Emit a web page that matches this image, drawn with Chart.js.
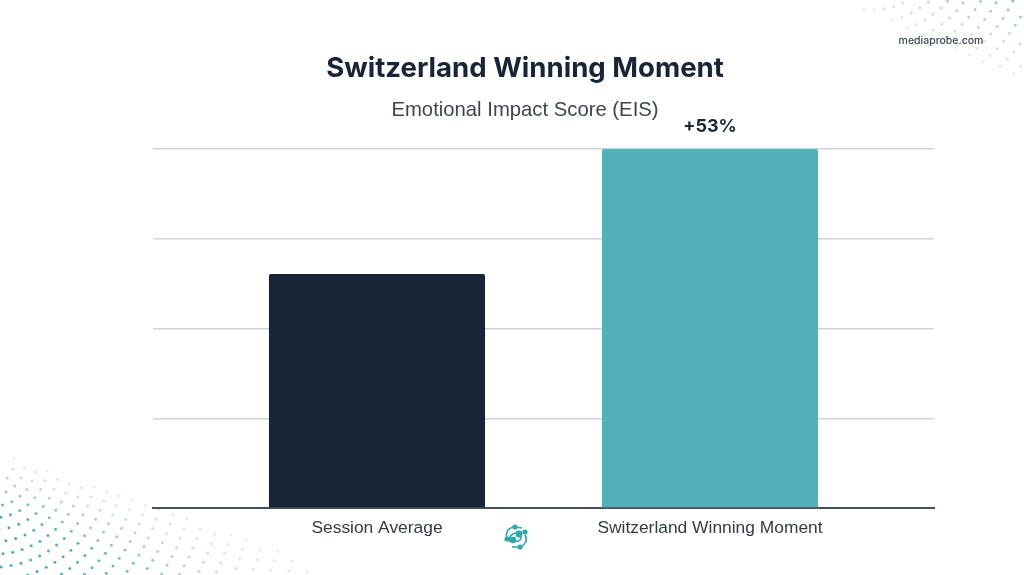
<!DOCTYPE html>
<html>
  <head>
    <title>Switzerland Winning Moment</title>
    <script src="https://cdn.jsdelivr.net/npm/chart.js"></script>
    <style>
      body { margin: 0; background: #fff; }
      #wrap { position: relative; width: 1024px; height: 575px; overflow: hidden; }
      #logo { position: absolute; left: 503px; top: 524px; }
    </style>
  </head>
  <body>
    <div id="wrap">
      <canvas id="chart" width="1024" height="575"></canvas>
      <svg id="logo" width="26" height="26" viewBox="0 0 26 26" fill="none" stroke="#2fa9ad" stroke-width="1.6">
        <path d="M4 14 C2 8 6 3 12 3 L19 4 M22 11 C25 16 22 22 16 23 L9 23 M7 18 C5 13 9 9 14 9 C18 9 19 13 17 16 C15 18 11 18 10 15" />
        <circle cx="12" cy="3" r="1.8" fill="#2fa9ad" />
        <circle cx="22" cy="8" r="1.8" fill="#2fa9ad" />
        <circle cx="16" cy="10" r="2.6" fill="#2fa9ad" />
        <circle cx="10" cy="16" r="2.4" fill="#2fa9ad" />
        <circle cx="17" cy="23" r="1.8" fill="#2fa9ad" />
        <circle cx="4" cy="15" r="1.8" fill="#2fa9ad" />
      </svg>
    </div>
    <script>
      const categories = ["Session Average", "Switzerland Winning Moment"];
      const scores = [65.2, 100];
      const barColors = ["#172536", "#53b2b9"];
      const liftLabels = ["", "+53%"];
      const yTicks = [0, 25, 50, 75, 100];

      const clamp = (v) => Math.min(1, Math.max(0, v));

      // the dotted corner decoration, not data
      function dots(ctx, cx, cy, a0, a1, rMax, fade) {
        for (let r = 22, dr = 11; r < rMax; r += dr, dr += 0.3) {
          const n = Math.round((r * Math.abs(a1 - a0)) / 10);
          for (let i = 0; i <= n; i++) {
            const a = a0 + ((a1 - a0) * i) / n;
            const x = cx + r * Math.cos(a);
            const y = cy + r * Math.sin(a);
            const t = fade(x, y);
            if (t <= 0.03) continue;
            ctx.fillStyle = `rgba(${Math.round(195 - 125 * t)},${Math.round(200 - 30 * t)},${Math.round(205 - 20 * t)},${clamp(0.3 + t)})`;
            ctx.beginPath();
            ctx.arc(x, y, 1.5, 0, Math.PI * 2);
            ctx.fill();
          }
        }
      }

      const backdrop = {
        id: "backdrop",
        beforeDraw(chart) {
          const ctx = chart.ctx;
          ctx.save();
          ctx.fillStyle = "#fff";
          ctx.fillRect(0, 0, 1024, 575);
          dots(ctx, -8, 462, -1.1, Math.PI / 2 + 0.2, 380, (x, y) => clamp((y - 452 - 0.32 * x) / 70) * clamp(1 - x / 350));
          dots(ctx, 870, -70, -0.1, Math.PI / 2 + 0.2, 250, (x, y) => clamp((0.43 * (x - 825) - y) / 90) * 0.65);
          ctx.restore();
        },
      };

      const texts = {
        id: "texts",
        afterDraw(chart) {
          const ctx = chart.ctx;
          ctx.save();
          ctx.textAlign = "center";
          ctx.textBaseline = "middle";
          ctx.fillStyle = "#172536";
          ctx.font = "bold 27.6px Inter";
          ctx.fillText("Switzerland Winning Moment", 525, 69);
          ctx.fillStyle = "#3c4650";
          ctx.font = "20.3px 'Liberation Sans'";
          ctx.fillText("Emotional Impact Score (EIS)", 525, 110);
          ctx.fillStyle = "#3a4654";
          ctx.font = "500 10.5px Inter";
          ctx.fillText("mediaprobe.com", 941, 41);
          // label above the bars
          ctx.fillStyle = "#172536";
          ctx.font = "bold 18px Inter";
          chart.getDatasetMeta(0).data.forEach((bar, i) => {
            if (liftLabels[i]) ctx.fillText(liftLabels[i], bar.x, bar.y - 22);
          });
          ctx.restore();
        },
      };

      new Chart(document.getElementById("chart").getContext("2d"), {
        type: "bar",
        data: {
          datasets: [
            {
              label: "Emotional Impact Score (EIS)",
              data: scores.map((v, i) => ({ x: i + 1, y: v })),
              backgroundColor: barColors,
              borderRadius: 2,
              borderSkipped: "bottom",
              barPercentage: 0.649,
              categoryPercentage: 1,
            },
          ],
        },
        options: {
          responsive: false,
          animation: false,
          layout: { padding: { left: 153, right: 90, top: 149, bottom: 0 } },
          plugins: { legend: { display: false }, title: { display: false }, tooltip: { enabled: false } },
          scales: {
            x: {
              type: "linear",
              offset: false,
              min: 0.3273,
              max: 2.6727,
              afterBuildTicks(axis) {
                axis.ticks = categories.map((c, i) => ({ value: i + 1 }));
              },
              afterFit(axis) {
                axis.height = 67;
              },
              grid: { display: false },
              border: { color: "#46505c", width: 2 },
              ticks: {
                autoSkip: false,
                maxRotation: 0,
                padding: 2,
                color: "#333b44",
                font: { family: "Liberation Sans", size: 17.4 },
                callback: (v) => categories[v - 1],
              },
            },
            y: {
              min: yTicks[0],
              max: yTicks[yTicks.length - 1],
              afterBuildTicks(axis) {
                axis.ticks = yTicks.map((v) => ({ value: v }));
              },
              border: { display: false },
              grid: { color: "#d2d4d6", lineWidth: 1.5, drawTicks: false },
              ticks: { display: false },
            },
          },
        },
        plugins: [backdrop, texts],
      });
    </script>
  </body>
</html>
